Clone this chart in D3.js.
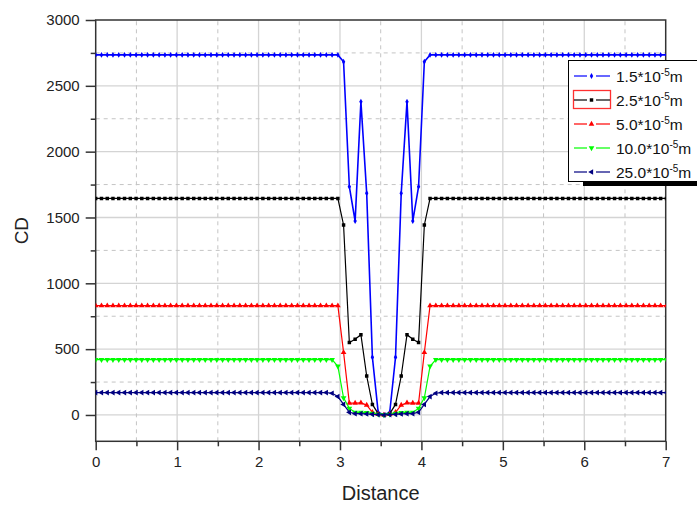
<!DOCTYPE html>
<html>
<head>
<meta charset="utf-8">
<script src="https://cdn.jsdelivr.net/npm/d3@7"></script>
<style>
  body { margin: 0; background: #fff; }
  text { font-family: "Liberation Sans", Arial, sans-serif; }
</style>
</head>
<body>
<div id="d3-container"></div>
<script>
// sample positions along the line (Distance)
const distance = [
  0, 0.071, 0.142, 0.212, 0.283, 0.354, 0.425, 0.496, 0.566, 0.637,
  0.708, 0.779, 0.850, 0.920, 0.991, 1.062, 1.133, 1.204, 1.274, 1.345,
  1.416, 1.487, 1.558, 1.628, 1.699, 1.770, 1.841, 1.912, 1.982, 2.053,
  2.124, 2.195, 2.266, 2.336, 2.407, 2.478, 2.549, 2.620, 2.690, 2.761,
  2.832, 2.903, 2.974, 3.044, 3.115, 3.186, 3.257, 3.328, 3.398, 3.469,
  3.540, 3.611, 3.682, 3.752, 3.823, 3.894, 3.965, 4.036, 4.106, 4.177,
  4.248, 4.319, 4.390, 4.460, 4.531, 4.602, 4.673, 4.744, 4.814, 4.885,
  4.956, 5.027, 5.098, 5.168, 5.239, 5.310, 5.381, 5.452, 5.522, 5.593,
  5.664, 5.735, 5.806, 5.876, 5.947, 6.018, 6.089, 6.160, 6.230, 6.301,
  6.372, 6.443, 6.514, 6.584, 6.655, 6.726, 6.797, 6.868, 6.938, 7.009
];

// CD values, one array per series
const cd15 = [
  2735, 2735, 2735, 2735, 2735, 2735, 2735, 2735, 2735, 2735,
  2735, 2735, 2735, 2735, 2735, 2735, 2735, 2735, 2735, 2735,
  2735, 2735, 2735, 2735, 2735, 2735, 2735, 2735, 2735, 2735,
  2735, 2735, 2735, 2735, 2735, 2735, 2735, 2735, 2735, 2735,
  2735, 2735, 2735, 2683, 1734, 1473, 2380, 1684, 438, 20,
  0, 20, 438, 1684, 2380, 1473, 1734, 2683, 2735, 2735,
  2735, 2735, 2735, 2735, 2735, 2735, 2735, 2735, 2735, 2735,
  2735, 2735, 2735, 2735, 2735, 2735, 2735, 2735, 2735, 2735,
  2735, 2735, 2735, 2735, 2735, 2735, 2735, 2735, 2735, 2735,
  2735, 2735, 2735, 2735, 2735, 2735, 2735, 2735, 2735, 2735
];
const cd25 = [
  1645, 1645, 1645, 1645, 1645, 1645, 1645, 1645, 1645, 1645,
  1645, 1645, 1645, 1645, 1645, 1645, 1645, 1645, 1645, 1645,
  1645, 1645, 1645, 1645, 1645, 1645, 1645, 1645, 1645, 1645,
  1645, 1645, 1645, 1645, 1645, 1645, 1645, 1645, 1645, 1645,
  1645, 1645, 1645, 1443, 550, 575, 610, 296, 80, 10,
  0, 10, 80, 296, 610, 575, 550, 1443, 1645, 1645,
  1645, 1645, 1645, 1645, 1645, 1645, 1645, 1645, 1645, 1645,
  1645, 1645, 1645, 1645, 1645, 1645, 1645, 1645, 1645, 1645,
  1645, 1645, 1645, 1645, 1645, 1645, 1645, 1645, 1645, 1645,
  1645, 1645, 1645, 1645, 1645, 1645, 1645, 1645, 1645, 1645
];
const cd50 = [
  830, 830, 830, 830, 830, 830, 830, 830, 830, 830,
  830, 830, 830, 830, 830, 830, 830, 830, 830, 830,
  830, 830, 830, 830, 830, 830, 830, 830, 830, 830,
  830, 830, 830, 830, 830, 830, 830, 830, 830, 830,
  830, 830, 830, 475, 90, 90, 92, 75, 20, 5,
  0, 5, 20, 75, 92, 90, 90, 475, 830, 830,
  830, 830, 830, 830, 830, 830, 830, 830, 830, 830,
  830, 830, 830, 830, 830, 830, 830, 830, 830, 830,
  830, 830, 830, 830, 830, 830, 830, 830, 830, 830,
  830, 830, 830, 830, 830, 830, 830, 830, 830, 830
];
const cd100 = [
  420, 420, 420, 420, 420, 420, 420, 420, 420, 420,
  420, 420, 420, 420, 420, 420, 420, 420, 420, 420,
  420, 420, 420, 420, 420, 420, 420, 420, 420, 420,
  420, 420, 420, 420, 420, 420, 420, 420, 420, 420,
  420, 420, 370, 130, 50, 20, 20, 18, 12, 5,
  0, 5, 12, 18, 20, 20, 50, 130, 370, 420,
  420, 420, 420, 420, 420, 420, 420, 420, 420, 420,
  420, 420, 420, 420, 420, 420, 420, 420, 420, 420,
  420, 420, 420, 420, 420, 420, 420, 420, 420, 420,
  420, 420, 420, 420, 420, 420, 420, 420, 420, 420
];
const cd250 = [
  170, 170, 170, 170, 170, 170, 170, 170, 170, 170,
  170, 170, 170, 170, 170, 170, 170, 170, 170, 170,
  170, 170, 170, 170, 170, 170, 170, 170, 170, 170,
  170, 170, 170, 170, 170, 170, 170, 170, 170, 170,
  170, 165, 140, 80, 20, 10, 10, 8, 5, 3,
  0, 3, 5, 8, 10, 10, 20, 80, 140, 165,
  170, 170, 170, 170, 170, 170, 170, 170, 170, 170,
  170, 170, 170, 170, 170, 170, 170, 170, 170, 170,
  170, 170, 170, 170, 170, 170, 170, 170, 170, 170,
  170, 170, 170, 170, 170, 170, 170, 170, 170, 170
];

const seriesNames = ["1.5", "2.5", "5.0", "10.0", "25.0"];
const seriesColors = ["#0000ff", "#000000", "#ff0000", "#00ff00", "#000080"];
const xTicks = [0, 1, 2, 3, 4, 5, 6, 7];
const xMinor = [0.5, 1.5, 2.5, 3.5, 4.5, 5.5, 6.5];
const yTicks = [0, 500, 1000, 1500, 2000, 2500, 3000];
const yMinor = [250, 750, 1250, 1750, 2250, 2750];

function drawChart() {
    const width = 697, height = 506;
    const margin = { top: 20, right: 31.3, bottom: 64.7, left: 95.7 };

    const svg = d3.select("#d3-container")
        .append("svg")
        .attr("width", width)
        .attr("height", height);

    const x = d3.scaleLinear().domain([0, 7]).range([margin.left, width - margin.right]);
    const y = d3.scaleLinear().domain([-200, 3000]).range([height - margin.bottom, margin.top]);

    svg.append("defs").append("clipPath").attr("id", "plot-clip")
        .append("rect")
        .attr("x", x(0)).attr("y", y(3000))
        .attr("width", x(7) - x(0)).attr("height", y(-200) - y(3000));

    // grid: solid at major ticks, dashed at minor ticks
    const grid = svg.append("g");
    grid.selectAll(".gx").data(xTicks.slice(1, -1)).join("line")
        .attr("x1", d => x(d)).attr("x2", d => x(d))
        .attr("y1", y(-200)).attr("y2", y(3000))
        .attr("stroke", "#d4d4d4").attr("stroke-width", 1.3);
    grid.selectAll(".gy").data(yTicks.slice(0, -1)).join("line")
        .attr("x1", x(0)).attr("x2", x(7))
        .attr("y1", d => y(d)).attr("y2", d => y(d))
        .attr("stroke", "#d4d4d4").attr("stroke-width", 1.3);
    grid.selectAll(".mx").data(xMinor).join("line")
        .attr("x1", d => x(d)).attr("x2", d => x(d))
        .attr("y1", y(-200)).attr("y2", y(3000))
        .attr("stroke", "#c4c4c4").attr("stroke-dasharray", "4,4");
    grid.selectAll(".my").data(yMinor).join("line")
        .attr("x1", x(0)).attr("x2", x(7))
        .attr("y1", d => y(d)).attr("y2", d => y(d))
        .attr("stroke", "#c4c4c4").attr("stroke-dasharray", "4,4");

    // axes
    const xAxis = g => g.attr("transform", `translate(0,${y(-200)})`)
        .call(d3.axisBottom(x).tickValues(xTicks).tickSize(9).tickPadding(6).tickFormat(d3.format("d")));
    const xAxisMinor = g => g.attr("transform", `translate(0,${y(-200)})`)
        .call(d3.axisBottom(x).tickValues(xMinor).tickSize(5).tickFormat(""));
    const yAxis = g => g.attr("transform", `translate(${x(0)},0)`)
        .call(d3.axisLeft(y).tickValues(yTicks).tickSize(10).tickPadding(6).tickFormat(d3.format("d")));
    const yAxisMinor = g => g.attr("transform", `translate(${x(0)},0)`)
        .call(d3.axisLeft(y).tickValues(yMinor).tickSize(5).tickFormat(""));

    [xAxis, xAxisMinor, yAxis, yAxisMinor].forEach(fn => {
        const g = svg.append("g").call(fn);
        g.select(".domain").remove();
        g.selectAll("line").attr("stroke", "#333").attr("stroke-width", 1.5);
        g.selectAll("text").attr("font-size", "15px").attr("fill", "#222")
            .style("font-family", "'Liberation Sans', Arial, sans-serif");
    });

    // frame
    svg.append("rect")
        .attr("x", x(0)).attr("y", y(3000))
        .attr("width", x(7) - x(0)).attr("height", y(-200) - y(3000))
        .attr("fill", "none").attr("stroke", "#333").attr("stroke-width", 1.5);

    // series
    const seriesValues = [cd15, cd25, cd50, cd100, cd250];
    const symbols = [d3.symbolDiamond, d3.symbolSquare, d3.symbolTriangle, d3.symbolTriangle, d3.symbolTriangle];
    const rotations = [0, 0, 0, 180, -90];
    const sizes = [10, 12, 14, 14, 14];

    const line = d3.line().x(d => x(d[0])).y(d => y(d[1]));
    const plot = svg.append("g").attr("clip-path", "url(#plot-clip)");

    seriesValues.forEach((vals, s) => {
        const pts = distance.map((d, i) => [d, vals[i]]);
        plot.append("path")
            .datum(pts)
            .attr("fill", "none")
            .attr("stroke", seriesColors[s])
            .attr("stroke-width", s === 0 ? 1.6 : 1.2)
            .attr("d", line);
        plot.append("g").selectAll("path")
            .data(pts)
            .join("path")
            .attr("transform", d => `translate(${x(d[0])},${y(d[1])}) rotate(${rotations[s]})`)
            .attr("d", d3.symbol(symbols[s], sizes[s]))
            .attr("fill", seriesColors[s]);
    });

    // legend
    const lg = svg.append("g");
    lg.append("rect").attr("x", 583).attr("y", 70).attr("width", 130).attr("height", 116).attr("fill", "#000");
    lg.append("rect").attr("x", 568.5).attr("y", 60.5).attr("width", 140).attr("height", 121)
        .attr("fill", "#fff").attr("stroke", "#000").attr("stroke-width", 1);
    lg.append("rect").attr("x", 573.5).attr("y", 90.5).attr("width", 37).attr("height", 18)
        .attr("fill", "none").attr("stroke", "#ff3030").attr("stroke-width", 1.3);

    seriesNames.forEach((name, s) => {
        const cy = 76 + s * 24;
        const row = lg.append("g");
        row.append("line").attr("x1", 574).attr("x2", 587).attr("y1", cy).attr("y2", cy)
            .attr("stroke", seriesColors[s]).attr("stroke-width", 1.2);
        row.append("line").attr("x1", 596).attr("x2", 610).attr("y1", cy).attr("y2", cy)
            .attr("stroke", seriesColors[s]).attr("stroke-width", 1.2);
        row.append("path")
            .attr("transform", `translate(591.5,${cy}) rotate(${rotations[s]})`)
            .attr("d", d3.symbol(symbols[s], sizes[s]))
            .attr("fill", seriesColors[s]);
        const t = row.append("text").attr("x", 616).attr("y", cy + 5.5)
            .attr("font-size", "15.5px").attr("fill", "#111");
        t.append("tspan").text(name + "*10");
        t.append("tspan").attr("dy", -6).attr("font-size", "10px").text("-5");
        t.append("tspan").attr("dy", 6).text("m");
    });

    // axis titles
    svg.append("text")
        .attr("x", (x(0) + x(7)) / 2).attr("y", 500)
        .attr("text-anchor", "middle").attr("font-size", "20px").attr("fill", "#222")
        .text("Distance");
    svg.append("text")
        .attr("transform", `translate(28,${(y(3000) + y(-200)) / 2}) rotate(-90)`)
        .attr("text-anchor", "middle").attr("font-size", "19px").attr("fill", "#222")
        .text("CD");
}

drawChart();
</script>
</body>
</html>
